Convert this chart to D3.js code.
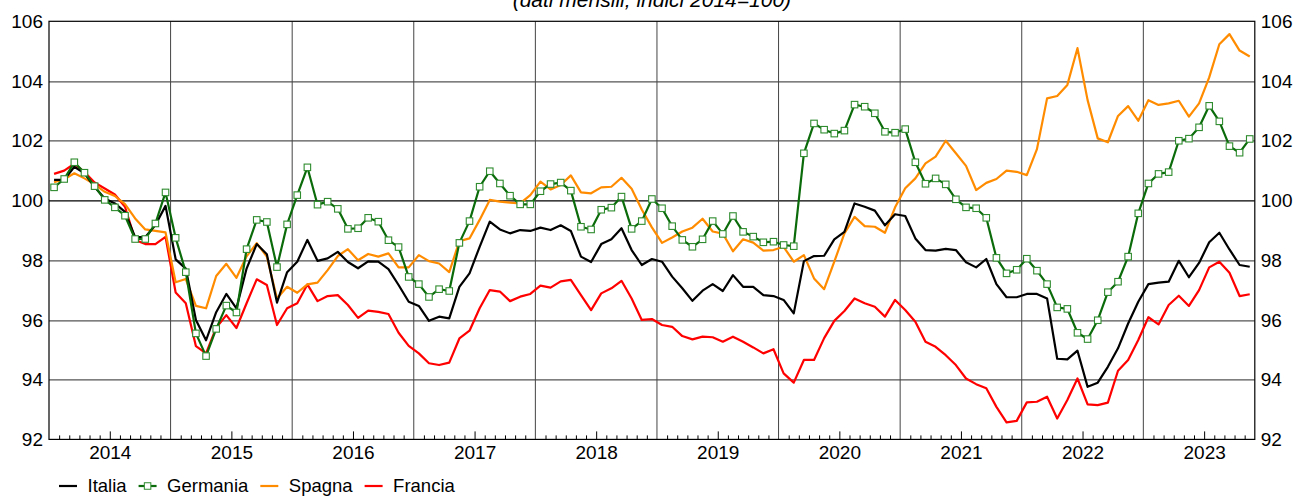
<!DOCTYPE html>
<html>
<head>
<meta charset="utf-8">
<script src="https://cdn.jsdelivr.net/npm/d3@7"></script>
<style>
  body { margin: 0; background: #fff; }
  svg { font-family: "Liberation Sans", Arial, sans-serif; }
  .tick text { font-size: 19px; fill: #000; }
  .legend { font-size: 18.5px; fill: #000; }
</style>
</head>
<body>
<div id="LineChart"></div>
<script>
// monthly data, Jan 2014 - Nov 2023 (indici 2014=100)
const years = ["2014", "2015", "2016", "2017", "2018", "2019", "2020", "2021", "2022", "2023"];
const yTicks = [92, 94, 96, 98, 100, 102, 104, 106];

const italia = [
  100.69, 100.69, 101.13, 100.91, 100.45, 100.07, 99.9, 99.62, 98.77, 98.77, 99.18, 99.82,
  98.03, 97.72, 96.0, 95.32, 96.26, 96.87, 96.39, 97.72, 98.54, 98.2, 96.58, 97.6,
  97.95, 98.68, 97.98, 98.06, 98.28, 97.94, 97.73, 97.96, 97.95, 97.7, 97.17, 96.61,
  96.47, 95.97, 96.11, 96.05, 97.11, 97.56, 98.45, 99.29, 99.03, 98.9, 99.01, 98.98,
  99.09, 99.01, 99.17, 98.98, 98.12, 97.94, 98.54, 98.7, 99.07, 98.34, 97.84, 98.04,
  97.95, 97.45, 97.06, 96.64, 96.98, 97.2, 96.97, 97.5, 97.11, 97.11, 96.83, 96.8,
  96.67, 96.22, 97.97, 98.14, 98.15, 98.7, 98.95, 99.9, 99.79, 99.66, 99.17, 99.54,
  99.48, 98.73, 98.34, 98.32, 98.38, 98.34, 97.93, 97.76, 98.04, 97.2, 96.76, 96.76,
  96.87, 96.87, 96.72, 94.7, 94.68, 94.97, 93.76, 93.9, 94.43, 95.05, 95.88, 96.61,
  97.2, 97.25, 97.28, 97.98, 97.43, 97.91, 98.6, 98.92, 98.36, 97.84, 97.78
];
const germania = [
  100.44, 100.72, 101.28, 100.93, 100.48, 100.02, 99.77, 99.49, 98.71, 98.71, 99.23, 100.27,
  98.75, 97.6, 95.55, 94.79, 95.7, 96.48, 96.25, 98.37, 99.35, 99.28, 97.77, 99.2,
  100.18, 101.11, 99.86, 99.96, 99.72, 99.05, 99.07, 99.42, 99.29, 98.67, 98.44, 97.44,
  97.2, 96.77, 97.03, 96.97, 98.58, 99.31, 100.46, 100.98, 100.57, 100.16, 99.87, 99.87,
  100.31, 100.55, 100.6, 100.33, 99.12, 99.03, 99.69, 99.76, 100.13, 99.05, 99.31, 100.05,
  99.74, 99.14, 98.68, 98.45, 98.7, 99.31, 98.88, 99.48, 98.95, 98.79, 98.6, 98.62,
  98.51, 98.47, 101.58, 102.58, 102.37, 102.24, 102.34, 103.21, 103.14, 102.92, 102.3, 102.27,
  102.39, 101.28, 100.56, 100.74, 100.54, 100.04, 99.77, 99.74, 99.42, 98.08, 97.56, 97.68,
  98.05, 97.65, 97.2, 96.42, 96.37, 95.57, 95.36, 95.99, 96.93, 97.28, 98.12, 99.57,
  100.57, 100.89, 100.95, 102.0, 102.07, 102.45, 103.17, 102.65, 101.82, 101.6, 102.06
];
const spagna = [
  100.61, 100.71, 100.91, 100.74, 100.54, 100.29, 100.15, 99.88, 99.4, 99.03, 98.98, 98.93,
  97.26, 97.37, 96.47, 96.39, 97.47, 97.88, 97.41, 98.13, 98.57, 98.12, 96.72, 97.11,
  96.91, 97.19, 97.25, 97.67, 98.14, 98.37, 98.0, 98.21, 98.12, 98.23, 97.76, 97.76,
  98.17, 97.97, 97.89, 97.6, 98.64, 98.73, 99.35, 100.02, 99.96, 99.93, 99.9, 100.18,
  100.63, 100.37, 100.52, 100.84, 100.27, 100.24, 100.44, 100.46, 100.76, 100.39, 99.7, 99.1,
  98.58, 98.76, 98.96, 99.09, 99.39, 98.96, 98.89, 98.3, 98.7, 98.59, 98.32, 98.34,
  98.45, 97.95, 98.17, 97.39, 97.03, 97.95, 98.9, 99.45, 99.14, 99.12, 98.92, 99.77,
  100.41, 100.74, 101.24, 101.47, 102.0, 101.58, 101.16, 100.35, 100.59, 100.72, 101.0, 100.96,
  100.85, 101.72, 103.42, 103.5, 103.87, 105.1, 103.36, 102.08, 101.95, 102.83, 103.16, 102.67,
  103.36, 103.2, 103.25, 103.34, 102.81, 103.25, 104.12, 105.23, 105.57, 105.02, 104.82
];
const francia = [
  100.89, 101.0, 101.23, 100.95, 100.6, 100.4, 100.2, 99.79, 98.68, 98.54, 98.54, 98.78,
  96.92, 96.56, 95.12, 94.88, 95.74, 96.16, 95.73, 96.56, 97.36, 97.17, 95.83, 96.39,
  96.56, 97.19, 96.63, 96.8, 96.83, 96.5, 96.07, 96.31, 96.27, 96.2, 95.57, 95.13,
  94.88, 94.55, 94.49, 94.57, 95.38, 95.64, 96.39, 97.0, 96.95, 96.63, 96.78, 96.87,
  97.15, 97.08, 97.29, 97.34, 96.83, 96.33, 96.89, 97.06, 97.31, 96.72, 96.0, 96.03,
  95.83, 95.77, 95.46, 95.35, 95.44, 95.42, 95.27, 95.44, 95.27, 95.08, 94.88, 95.02,
  94.21, 93.9, 94.66, 94.66, 95.39, 95.97, 96.3, 96.72, 96.56, 96.44, 96.11, 96.67,
  96.33, 95.94, 95.27, 95.1, 94.82, 94.49, 94.04, 93.85, 93.71, 93.09, 92.57, 92.62,
  93.24, 93.26, 93.43, 92.7, 93.32, 94.04, 93.17, 93.15, 93.23, 94.3, 94.66, 95.33,
  96.09, 95.85, 96.5, 96.81, 96.47, 97.0, 97.76, 97.95, 97.58, 96.8, 96.86
];

const seriesNames = ["Italia", "Germania", "Spagna", "Francia"];
const seriesColors = ["#000000", "#0b6b0b", "#ff8c00", "#ff0000"];
const seriesData = [italia, germania, spagna, francia];

const fullWidth = 1293;
const fullHeight = 497;
const margin = {top: 21.3, right: 38.2, bottom: 57.6, left: 49};
const widthLineChart = fullWidth - margin.left - margin.right;
const heightLineChart = fullHeight - margin.top - margin.bottom;

const svg = d3
  .select("#LineChart")
  .append("svg")
  .attr("width", fullWidth)
  .attr("height", fullHeight)
  .append("g")
  .attr("transform", `translate(${margin.left},${margin.top})`);

// x: month index (0 = Jan 2014), points sit mid-month
const nMonths = italia.length;
const xScale = d3.scaleLinear()
  .domain([0, nMonths])
  .range([0, widthLineChart]);

const yScale = d3.scaleLinear()
  .domain([yTicks[0], yTicks[yTicks.length - 1]])
  .range([heightLineChart, 0]);

// title (cut by the top edge, as in the source)
svg.append("text")
  .attr("x", widthLineChart / 2)
  .attr("y", 7 - margin.top)
  .attr("text-anchor", "middle")
  .style("font-size", "21px")
  .style("font-style", "italic")
  .text("(dati mensili; indici " + years[0] + "=100)");

// horizontal grid
svg.append("g")
  .selectAll("line")
  .data(yTicks.slice(1, -1))
  .join("line")
  .attr("x1", 0)
  .attr("x2", widthLineChart)
  .attr("y1", d => Math.round(yScale(d)) + 0.5)
  .attr("y2", d => Math.round(yScale(d)) + 0.5)
  .style("stroke", d => d === 100 ? "#000" : "#555")
  .style("stroke-width", 1.2);

// vertical lines at year boundaries
const yearStarts = years.slice(1).map((d, i) => (i + 1) * 12);
svg.append("g")
  .selectAll("line")
  .data(yearStarts)
  .join("line")
  .attr("x1", d => xScale(d))
  .attr("x2", d => xScale(d))
  .attr("y1", 0)
  .attr("y2", heightLineChart)
  .style("stroke", "#444")
  .style("stroke-width", 1);

// month ticks (inside, pointing up)
const monthTicks = d3.range(1, nMonths).filter(m => m % 12 !== 0 && m % 12 !== 6);
svg.append("g")
  .attr("transform", `translate(0, ${heightLineChart})`)
  .call(d3.axisBottom(xScale).tickValues(monthTicks).tickSize(-4).tickFormat(""))
  .call(g => g.select(".domain").remove())
  .call(g => g.selectAll(".tick line").style("stroke", "#000"));

// mid-year ticks with year labels
const midYears = years.map((d, i) => i * 12 + 6);
svg.append("g")
  .attr("transform", `translate(0, ${heightLineChart})`)
  .call(d3.axisBottom(xScale)
    .tickValues(midYears)
    .tickSize(-8)
    .tickPadding(6)
    .tickFormat((d, i) => years[i]))
  .call(g => g.select(".domain").remove())
  .call(g => g.selectAll(".tick line").style("stroke", "#000"));

// y axes left and right
svg.append("g")
  .call(d3.axisLeft(yScale).tickValues(yTicks).tickSize(0).tickPadding(6))
  .call(g => g.select(".domain").remove());
svg.append("g")
  .attr("transform", `translate(${widthLineChart}, 0)`)
  .call(d3.axisRight(yScale).tickValues(yTicks).tickSize(0).tickPadding(6))
  .call(g => g.select(".domain").remove());

// lines
const line = d3.line()
  .x((d, i) => xScale(i + 0.5))
  .y(d => yScale(d));

const drawOrder = [3, 2, 0, 1];
drawOrder.forEach(k => {
  svg.append("path")
    .datum(seriesData[k])
    .attr("d", line)
    .style("fill", "none")
    .style("stroke", seriesColors[k])
    .style("stroke-width", 2.2)
    .style("stroke-linejoin", "round");
});

// Germania markers
const mk = 6.5;
svg.append("g")
  .selectAll("rect")
  .data(germania)
  .join("rect")
  .attr("x", (d, i) => xScale(i + 0.5) - mk / 2)
  .attr("y", d => yScale(d) - mk / 2)
  .attr("width", mk)
  .attr("height", mk)
  .style("fill", "#fff")
  .style("stroke", "#2e8b2e")
  .style("stroke-width", 1.1);

// frame
svg.append("rect")
  .attr("x", 0)
  .attr("y", 0)
  .attr("width", widthLineChart)
  .attr("height", heightLineChart)
  .style("fill", "none")
  .style("stroke", "#000")
  .style("stroke-width", 1.2);

// legend
const legend = svg.append("g")
  .attr("transform", `translate(${59 - margin.left}, ${486 - margin.top})`);
let lx = 0;
seriesNames.forEach((name, k) => {
  legend.append("line")
    .attr("x1", lx)
    .attr("x2", lx + 18)
    .attr("y1", 0)
    .attr("y2", 0)
    .style("stroke", seriesColors[k])
    .style("stroke-width", 2.2);
  if (name === "Germania") {
    legend.append("rect")
      .attr("x", lx + 9 - mk / 2)
      .attr("y", -mk / 2)
      .attr("width", mk)
      .attr("height", mk)
      .style("fill", "#fff")
      .style("stroke", "#2e8b2e");
  }
  const t = legend.append("text")
    .attr("class", "legend")
    .attr("x", lx + 28.5)
    .attr("y", 0)
    .attr("dy", "0.35em")
    .text(name);
  lx += 28.5 + t.node().getComputedTextLength() + 12;
});
</script>
</body>
</html>
